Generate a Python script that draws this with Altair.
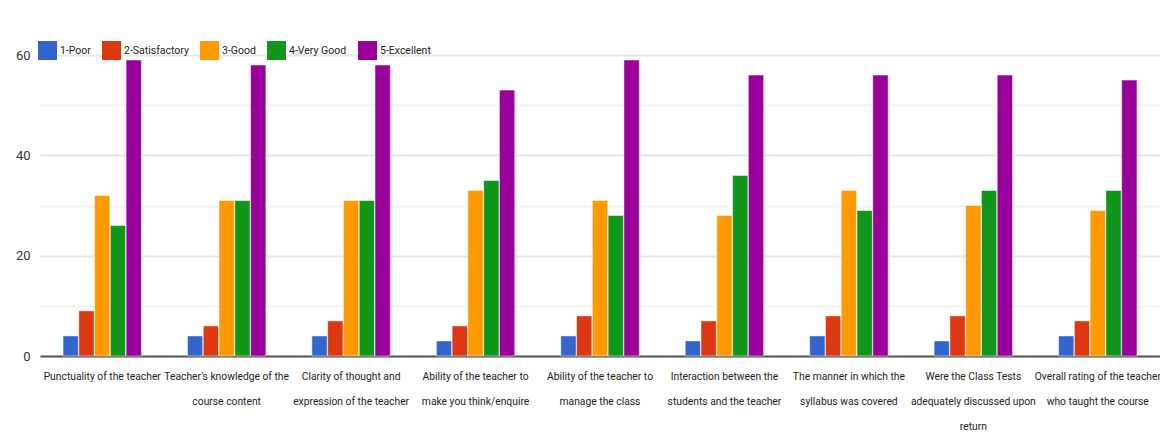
import altair as alt
import pandas as pd

categories = [
    "Punctuality of the teacher",
    "Teacher's knowledge of the\ncourse content",
    "Clarity of thought and\nexpression of the teacher",
    "Ability of the teacher to\nmake you think/enquire",
    "Ability of the teacher to\nmanage the class",
    "Interaction between the\nstudents and the teacher",
    "The manner in which the\nsyllabus was covered",
    "Were the Class Tests\nadequately discussed upon\nreturn",
    "Overall rating of the teacher\nwho taught the course",
]
series = ["1-Poor", "2-Satisfactory", "3-Good", "4-Very Good", "5-Excellent"]
colors = ["#3366cc", "#dc3912", "#ff9900", "#109618", "#990099"]

poor = [4, 4, 4, 3, 4, 3, 4, 3, 4]
satisfactory = [9, 6, 7, 6, 8, 7, 8, 8, 7]
good = [32, 31, 31, 33, 31, 28, 33, 30, 29]
very_good = [26, 31, 31, 35, 28, 36, 29, 33, 33]
excellent = [59, 58, 58, 53, 59, 56, 56, 56, 55]

values = [poor, satisfactory, good, very_good, excellent]
rows = []
for s, vals in zip(series, values):
    for c, v in zip(categories, vals):
        rows.append({"category": c, "series": s, "value": v})
df = pd.DataFrame(rows)

FONT = "Roboto, Liberation Sans"

chart = alt.Chart(df).mark_bar(stroke="white", strokeWidth=0.5).encode(
    x=alt.X(
        "category:N",
        sort=categories,
        scale=alt.Scale(paddingInner=0.37, paddingOuter=0.185),
        axis=alt.Axis(
            title=None,
            labelAngle=0,
            labelExpr="split(datum.label, '\\n')",
            labelLineHeight=25,
            labelFontSize=10.3,
            labelFont=FONT,
            labelColor="#222222",
            labelPadding=15,
            labelLimit=200,
            ticks=False,
            domainColor="#555555",
            domainWidth=2,
            grid=False,
        ),
    ),
    xOffset=alt.XOffset("series:N", sort=series, scale=alt.Scale(paddingInner=0.03)),
    y=alt.Y(
        "value:Q",
        scale=alt.Scale(domain=[0, 60], nice=False),
        axis=alt.Axis(
            title=None,
            values=list(range(0, 61, 10)),
            labelExpr="datum.value % 20 === 0 ? datum.label : ''",
            domain=False,
            ticks=False,
            labelPadding=10,
            labelFontSize=13,
            labelFont=FONT,
            labelColor="#333333",
            gridWidth=2,
            gridColor=alt.condition("datum.value % 20 === 0", alt.value("#e6e6e6"), alt.value("#f3f3f3")),
        ),
    ),
    color=alt.Color(
        "series:N",
        sort=series,
        scale=alt.Scale(domain=series, range=colors),
        legend=alt.Legend(
            title=None,
            orient="none",
            legendX=-2,
            legendY=-14,
            direction="horizontal",
            symbolType="square",
            symbolSize=360,
            symbolStrokeWidth=0,
            labelFontSize=10.5,
            labelFont=FONT,
            labelColor="#222222",
            columnPadding=11,
            labelOffset=3,
        ),
    ),
).properties(
    width=1120,
    height=301,
    autosize=alt.AutoSizeParams(type="none"),
    padding={"left": 32, "top": 47, "right": 0, "bottom": 75},
).configure_view(stroke=None)

chart.save("out.html", embed_options={"renderer": "svg", "actions": False})
